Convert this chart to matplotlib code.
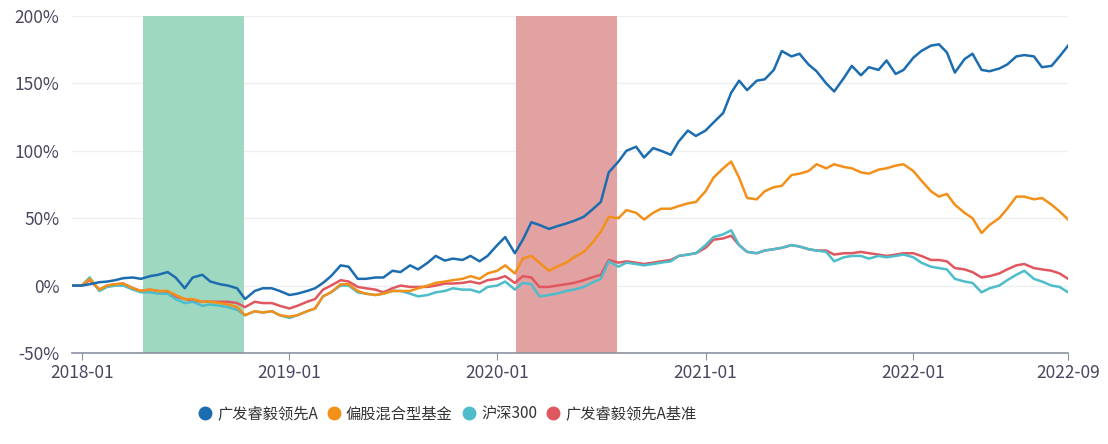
import matplotlib
matplotlib.use("Agg")
import matplotlib.pyplot as plt
from matplotlib.lines import Line2D
import pandas as pd

plt.rcParams['font.family'] = ['Noto Sans CJK SC', 'DejaVu Sans']

# Fechas (quincenales) y series de rentabilidad acumulada (%)
fechas = list(pd.date_range("2017-12-15", "2022-09-15", freq="SMS")) + [pd.Timestamp("2022-09-30")]

fondo = [0, 0, 1, 2.5, 3, 4, 5.5, 6, 5, 7, 8, 10, 6, -2, 6, 8, 3, 1, 0, -2,
         -10, -4, -2, -2, -4, -7, -6, -4, -2, 2, 7, 15, 14, 5, 5, 6, 6, 11, 10, 15,
         12, 17, 22, 18.5, 20, 19, 22, 18, 22, 30, 36, 24, 34, 47, 45, 42, 44, 46, 48, 51,
         56, 62, 84, 92, 100, 103, 95, 102, 100, 97, 107, 115, 111, 115, 121, 128, 143, 152, 145, 152,
         153, 160, 174, 170, 172, 164, 159, 150, 144, 154, 163, 156, 162, 160, 167, 157, 160, 169, 174, 178,
         179, 173, 158, 168, 172, 160, 159, 161, 164, 170, 171, 170, 162, 163, 170, 178]

pianzhu = [0, 0, 5, -3, 0, 1, 1.5, -2, -4, -3, -4, -4, -7, -10, -10, -12, -12, -13, -14, -16,
           -22, -19, -20, -19, -22, -23, -22, -19, -17, -8, -5, 1, 1, -4, -6, -7, -6, -4, -4, -4,
           -2, 0, 2, 3, 4, 5, 7, 5, 9, 11, 15, 9, 20, 22, 17, 11, 14, 17, 21, 25,
           31, 40, 51, 50, 56, 54, 49, 54, 57, 57, 59, 61, 62, 70, 80, 87, 92, 80, 65, 64,
           70, 73, 74, 82, 83, 85, 90, 87, 90, 88, 87, 84, 83, 86, 87, 89, 90, 85, 78, 70,
           66, 68, 60, 54, 50, 39, 45, 50, 57, 66, 66, 64, 65, 60, 55, 49]

hs300 = [0, 0, 6, -4, -1, 0, 0, -3, -5, -5, -6, -6, -10, -13, -12, -15, -14, -15, -16, -18,
         -22, -19, -20, -19, -22, -24, -22, -19, -17, -8, -5, 0, 0, -5, -6, -7, -6, -4, -4, -6,
         -8, -7, -5, -4, -2, -3, -3, -5, -1, 0, 3, -3, 2, 1, -8, -7, -6, -4, -3, -1,
         2, 5, 18, 14, 17, 16, 15, 16, 17, 18, 22, 23, 24, 30, 36, 38, 41, 30, 25, 24,
         26, 27, 28, 30, 29, 27, 26, 25, 18, 21, 22, 22, 20, 22, 21, 22, 23, 21, 17, 14,
         13, 12, 5, 3, 2, -5, -2, 0, 4, 8, 11, 5, 3, 0, -1, -5]

jizhun = [0, 0, 4, -3, 0, 1, 1.5, -2, -4, -3, -4, -5, -8, -10, -11, -12, -12, -12, -12, -13,
          -16, -12, -13, -13, -15, -17, -15, -12, -10, -3, 0, 4, 3, -1, -2, -3, -5, -2, 0, -1,
          -1, -1, 0, 1.5, 1.5, 2, 3, 1.5, 4, 5, 7, 2, 7, 6, -1, -1, 0, 1, 2, 4,
          6, 8, 19, 17, 18, 17, 16, 17, 18, 19, 22, 23, 24, 28, 34, 35, 37, 30, 25, 24,
          26, 27, 28, 30, 29, 27, 26, 26, 23, 24, 24, 25, 24, 23, 22, 23, 24, 24, 22, 19,
          19, 18, 13, 12, 10, 6, 7, 9, 12, 15, 16, 13, 12, 11, 9, 5]

nombres = ["广发睿毅领先A", "偏股混合型基金", "沪深300", "广发睿毅领先A基准"]
colores = ["#1c6cb0", "#f39019", "#4dbccb", "#e0575f"]

# Periodos sombreados
verde = ("2018-04-19", "2018-10-13")
rojo = ("2020-02-03", "2020-07-30")

ticks_x = ["2018-01-01", "2019-01-01", "2020-01-01", "2021-01-01", "2022-01-01", "2022-09-30"]
etiquetas_x = ["2018-01", "2019-01", "2020-01", "2021-01", "2022-01", "2022-09"]
ticks_y = [-50, 0, 50, 100, 150, 200]

fig = plt.figure(figsize=(11.08, 4.44), dpi=100)
ax = fig.add_axes([0.065, 0.205, 0.899, 0.759])

ax.axvspan(pd.Timestamp(verde[0]), pd.Timestamp(verde[1]), color="#9fd8c0", lw=0, zorder=1)
ax.axvspan(pd.Timestamp(rojo[0]), pd.Timestamp(rojo[1]), color="#e2a2a2", lw=0, zorder=1)

ax.plot(fechas, jizhun, color=colores[3], lw=1.8, zorder=3)
ax.plot(fechas, hs300, color=colores[2], lw=1.8, zorder=4)
ax.plot(fechas, pianzhu, color=colores[1], lw=1.8, zorder=5)
ax.plot(fechas, fondo, color=colores[0], lw=1.8, zorder=6)

ax.set_xlim(pd.Timestamp("2017-12-15"), pd.Timestamp("2022-09-30"))
ax.set_ylim(-50, 200)
ax.set_yticks(ticks_y)
ax.set_yticklabels([f"{v}%" for v in ticks_y])
ax.set_xticks([pd.Timestamp(t) for t in ticks_x])
ax.set_xticklabels(etiquetas_x)

for v in ticks_y[1:]:
    ax.axhline(v, color="#eceef3", lw=0.9, zorder=0)

for s in ["top", "right", "left"]:
    ax.spines[s].set_visible(False)
ax.spines["bottom"].set_color("#8c90a0")
ax.spines["bottom"].set_linewidth(1.2)
ax.tick_params(axis="y", length=0, pad=9, labelsize=12.5, labelcolor="#4d4560")
ax.tick_params(axis="x", length=5, color="#8c90a0", pad=3, labelsize=12.5, labelcolor="#4d4560")

handles = [Line2D([], [], marker="o", ls="", color=c, markersize=9) for c in colores]
fig.legend(handles, nombres, loc="center", bbox_to_anchor=(443 / 1108, 1 - 414 / 444),
           ncol=4, frameon=False, fontsize=11, handletextpad=-0.2, columnspacing=0.05,
           labelcolor="#333333")

fig.savefig("out.png", dpi=100)
